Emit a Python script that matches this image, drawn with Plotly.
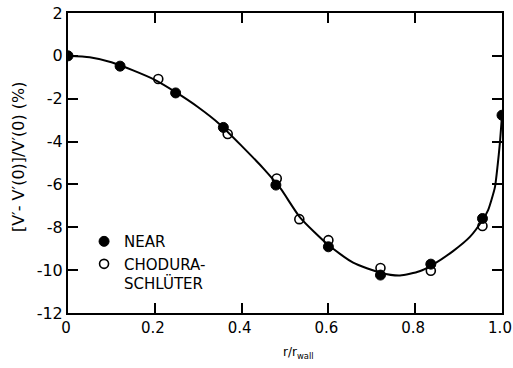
import plotly.graph_objects as go

# NEAR (filled circles)
near_x = [0.0, 0.12, 0.248, 0.358, 0.479, 0.600, 0.720, 0.836, 0.955, 1.0]
near_y = [0.0, -0.48, -1.73, -3.34, -6.03, -8.91, -10.23, -9.72, -7.59, -2.77]

# CHODURA-SCHLÜTER (open circles)
cs_x = [0.208, 0.368, 0.481, 0.533, 0.600, 0.720, 0.836, 0.955]
cs_y = [-1.08, -3.65, -5.72, -7.62, -8.60, -9.90, -10.03, -7.94]

# Smooth fitted curve
curve_x = [0.0, 0.05, 0.10, 0.15, 0.20, 0.25, 0.30, 0.35, 0.40, 0.45, 0.49, 0.535,
           0.60, 0.657, 0.72, 0.765, 0.81, 0.84, 0.888, 0.926, 0.957, 0.968, 0.976,
           0.984, 0.99, 0.995, 1.0]
curve_y = [0.0, -0.07, -0.30, -0.68, -1.12, -1.72, -2.40, -3.20, -4.20, -5.25, -6.20, -7.55,
           -8.83, -9.65, -10.12, -10.25, -10.05, -9.75, -9.10, -8.45, -7.60, -7.20, -6.70,
           -6.10, -5.10, -4.10, -2.77]

x_ticks = [0, 0.2, 0.4, 0.6, 0.8, 1.0]
x_ticklabels = ["0", "0.2", "0.4", "0.6", "0.8", "1.0"]
y_ticks = [2, 0, -2, -4, -6, -8, -10, -12]
y_ticklabels = ["2", "0", "-2", "-4", "-6", "-8", "-10", "-12"]

FONT = "DejaVu Sans"

fig = go.Figure()
fig.add_trace(go.Scatter(x=curve_x, y=curve_y, mode="lines",
                         line=dict(color="black", width=2, shape="spline", smoothing=0.6),
                         showlegend=False, hoverinfo="skip"))
fig.add_trace(go.Scatter(x=near_x, y=near_y, mode="markers", name="NEAR",
                         marker=dict(symbol="circle", size=10, color="black",
                                     line=dict(color="black", width=1))))
fig.add_trace(go.Scatter(x=cs_x, y=cs_y, mode="markers", name="CHODURA-<br>SCHLÜTER",
                         marker=dict(symbol="circle-open", size=9, color="black",
                                     line=dict(color="black", width=1.6))))

axis_common = dict(showline=True, linecolor="black", linewidth=2, mirror="allticks",
                   ticks="inside", ticklen=10, tickwidth=1.5, tickcolor="black",
                   showgrid=False, zeroline=False, automargin=False,
                   ticklabeloverflow="allow")

fig.update_layout(
    width=513, height=368,
    margin=dict(l=68, r=11, t=13, b=55),
    paper_bgcolor="white", plot_bgcolor="white",
    xaxis=dict(range=[0, 1.0], tickvals=x_ticks, ticktext=x_ticklabels,
               ticklabelshift=-2, tickfont=dict(family=FONT, size=15, color="black"),
               **axis_common),
    yaxis=dict(range=[-12, 2], tickvals=y_ticks, ticktext=y_ticklabels,
               tickfont=dict(family=FONT, size=16, color="black"), **axis_common),
    showlegend=True,
    legend=dict(x=0.037, y=0.293, xanchor="left", yanchor="top", bgcolor="rgba(0,0,0,0)",
                font=dict(family=FONT, size=15, color="black"), itemwidth=30,
                valign="top", tracegroupgap=0),
    annotations=[
        dict(text="[V′- V′(0)]/V′(0) (%)", xref="paper", yref="paper",
             x=-0.115, y=0.52, xanchor="center", yanchor="middle", textangle=-90,
             showarrow=False, font=dict(family=FONT, size=16, color="black")),
        dict(text="r/r<sub>wall</sub>", xref="paper", yref="paper",
             x=0.53, y=-0.1, xanchor="center", yanchor="top",
             showarrow=False, font=dict(family=FONT, size=12, color="black")),
    ],
)

fig.write_html("out.html")
